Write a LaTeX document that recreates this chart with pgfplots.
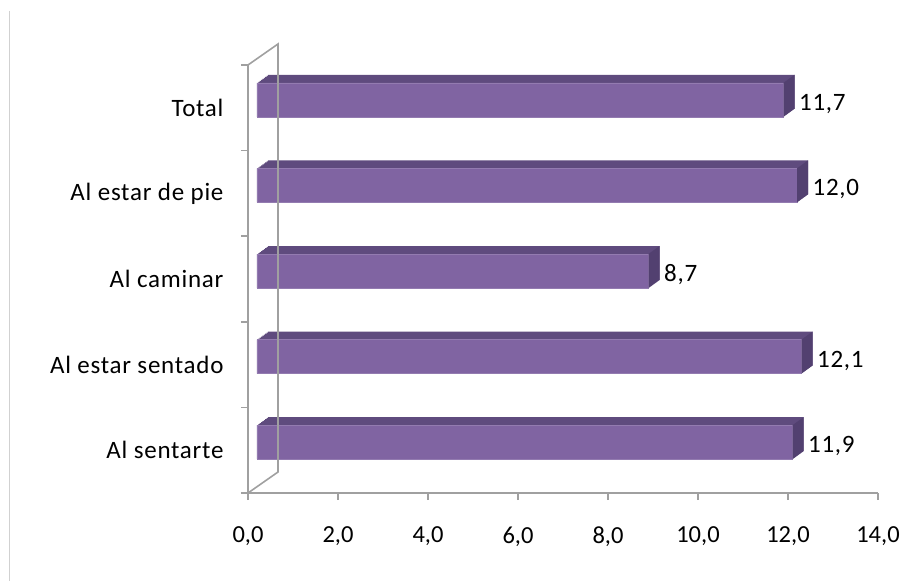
\documentclass[border=0pt]{standalone}
\usepackage{pgfplots}
\usepackage{pgfplotstable}
\pgfplotsset{compat=1.18}
\usepackage{fontspec}
\setmainfont{Carlito}
\newfontfamily\catfont[LetterSpace=3]{Carlito}
\definecolor{barfront}{HTML}{8064A2}
\definecolor{bartop}{HTML}{5F4B7E}
\definecolor{barside}{HTML}{524070}
\definecolor{axgray}{HTML}{A0A0A0}
\pgfdeclareplotmark{rightface}{%
  \pgfpathmoveto{\pgfpoint{0pt}{-17pt}}%
  \pgfpathlineto{\pgfpoint{0pt}{17pt}}%
  \pgfpathlineto{\pgfpoint{11pt}{25pt}}%
  \pgfpathlineto{\pgfpoint{11pt}{-9pt}}%
  \pgfpathclose
  \pgfusepath{fill}%
}
\pgfplotstableread{
y v lab
0 11.9 {11,9}
1 12.1 {12,1}
2 8.7 {8,7}
3 12.0 {12,0}
4 11.7 {11,7}
}\datatable
\begin{document}
\begin{tikzpicture}[x=1pt,y=1pt]
\begin{axis}[
  at={(0,0)}, anchor=south west,
  scale only axis, width=630pt, height=428pt,
  xmin=0, xmax=14, ymin=-0.5, ymax=4.5,
  clip=false,
  axis lines*=left,
  axis line style={draw=axgray, line width=1.6pt},
  tick align=outside,
  major tick length=7pt,
  tick style={draw=axgray, line width=1.6pt},
  xtick={0,2,...,14},
  ytick={-0.5,0.5,1.5,2.5,3.5,4.5},
  yticklabels={},
  extra y ticks={0,1,2,3,4},
  extra y tick labels={Al sentarte,Al estar sentado,Al caminar,Al estar de pie,Total},
  extra y tick style={tick style={draw=none}},
  /pgf/number format/assume math mode=true,
  xticklabel style={/pgf/number format/fixed, /pgf/number format/fixed zerofill, /pgf/number format/precision=1, /pgf/number format/use comma, yshift=-23pt},
  tick label style={font=\fontsize{24.5}{28}\selectfont, text=black},
  yticklabel style={anchor=east, xshift=-14pt, font=\catfont\fontsize{25}{28}\selectfont},
]
\pgfplotsinvokeforeach{8,7,6,5,4,3,2,1}{
  \addplot[xbar, bar shift=0pt, bar width=34pt, fill=bartop, draw=none,
    xshift={9pt+#1*1.375pt}, yshift={8pt+#1*1pt}]
    table[x=v, y=y] {\datatable};
}
\addplot[only marks, mark=rightface, mark options={fill=barside, draw=none},
  xshift=9pt, yshift=8pt] table[x=v, y=y] {\datatable};
\addplot[xbar, bar shift=0pt, bar width=34pt, fill=barfront, draw=barfront!85!white, line width=0.6pt,
  xshift=9pt, yshift=8pt,
  nodes near coords, nodes near coords align=horizontal,
  point meta=explicit symbolic,
  every node near coord/.append style={anchor=west, xshift=12pt, yshift=-4pt, text=black, font=\catfont\fontsize{25}{28}\selectfont}]
  table[x=v, y=y, meta=lab] {\datatable};
\end{axis}
\draw[axgray, line width=1.6pt] (0,428) -- (30,449) -- (30,21) -- (0,0);
\draw[black!18, line width=0.8pt] (-239,482) -- (-239,-88);
\pgfresetboundingbox
\useasboundingbox (-248,-88) rectangle (656,493);
\end{tikzpicture}
\end{document}
